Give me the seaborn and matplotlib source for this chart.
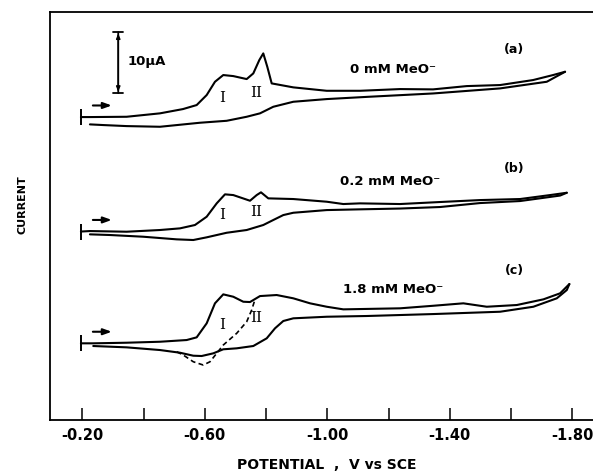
import numpy as np
import pandas as pd
import seaborn as sns
import matplotlib
matplotlib.use("Agg")
import matplotlib.pyplot as plt

sns.set_style("white")
plt.rcParams["font.family"] = ["DejaVu Sans"]
plt.rcParams["font.weight"] = "bold"
plt.rcParams["text.color"] = "black"
plt.rcParams["xtick.color"] = "black"
plt.rcParams["axes.labelcolor"] = "black"

# potentials (V vs SCE) and currents (uA, relative to the start of each scan)
a_fwd_v = [-0.195, -0.2245, -0.3444, -0.4533, -0.5284, -0.5732, -0.6059, -0.6330, -0.6601, -0.6928,
           -0.7366, -0.7582, -0.7778, -0.7908, -0.8039, -0.8183, -0.8889, -0.9980, -1.1069, -1.2376,
           -1.3454, -1.4556, -1.5644, -1.6722, -1.7376, -1.7768]
a_fwd_i = [0.0, 0.0, 0.05, 0.61, 1.31, 1.97, 3.61, 5.79, 6.89, 6.72,
           6.23, 7.16, 9.34, 10.44, 8.25, 5.52, 4.87, 4.31, 4.31, 4.59,
           4.54, 5.08, 5.25, 6.07, 6.89, 7.43]
a_rev_v = [-1.7768, -1.7170, -1.5644, -1.3454, -1.1288, -0.9980, -0.8889, -0.8235, -0.7801, -0.7366,
           -0.6712, -0.5840, -0.4533, -0.3444, -0.2680, -0.2245]
a_rev_i = [7.43, 5.79, 4.70, 3.87, 3.31, 2.95, 2.51, 1.69, 0.61, 0.05,
           -0.61, -0.93, -1.59, -1.48, -1.31, -1.20]

b_fwd_v = [-0.195, -0.2245, -0.3444, -0.4533, -0.5186, -0.5676, -0.6059, -0.6386, -0.6657, -0.6928,
           -0.7474, -0.7693, -0.7833, -0.8072, -0.8889, -0.9980, -1.0523, -1.1069, -1.2376, -1.3683,
           -1.4990, -1.6297, -1.7278, -1.7824]
b_fwd_i = [0.0, 0.08, -0.03, 0.25, 0.52, 1.07, 2.43, 4.62, 6.10, 5.98,
           5.05, 5.98, 6.43, 5.44, 5.33, 4.89, 4.51, 4.62, 4.51, 4.84,
           5.16, 5.33, 5.98, 6.36]
b_rev_v = [-1.7824, -1.7605, -1.6297, -1.4990, -1.3683, -1.2376, -1.1069, -0.9980, -0.8889, -0.8562,
           -0.8235, -0.7908, -0.7366, -0.6712, -0.6059, -0.5621, -0.5078, -0.3987, -0.2899, -0.2245]
b_rev_i = [6.36, 5.90, 5.00, 4.67, 4.02, 3.77, 3.64, 3.52, 3.08, 2.70,
           1.89, 1.07, 0.25, -0.20, -0.95, -1.39, -1.28, -0.85, -0.57, -0.46]

c_fwd_v = [-0.195, -0.2353, -0.3444, -0.4533, -0.5405, -0.5732, -0.6059, -0.6330, -0.6601, -0.6928,
           -0.7255, -0.7474, -0.7801, -0.8346, -0.8889, -0.9435, -0.9980, -1.0523, -1.2376, -1.3464,
           -1.4444, -1.5209, -1.6190, -1.7059, -1.7605, -1.7908]
c_fwd_i = [0.0, 0.0, 0.10, 0.26, 0.54, 0.98, 3.28, 6.56, 8.03, 7.64,
           6.82, 6.77, 7.75, 7.92, 7.38, 6.56, 6.00, 5.57, 5.74, 6.16,
           6.56, 6.00, 6.28, 7.21, 8.20, 9.72]
c_rev_v = [-1.7908, -1.7824, -1.7497, -1.6732, -1.5644, -1.3464, -1.1288, -0.9980, -0.8889, -0.8562,
           -0.8291, -0.8020, -0.7582, -0.7039, -0.6601, -0.6275, -0.5895, -0.5621, -0.5186, -0.4533,
           -0.3444, -0.2353]
c_rev_i = [9.72, 8.74, 7.38, 6.00, 5.18, 4.80, 4.48, 4.36, 4.10, 3.66,
           2.46, 0.82, -0.44, -0.82, -0.98, -1.64, -2.08, -2.03, -1.54, -1.10,
           -0.66, -0.44]
# dashed return trace for 1.8 mM
c_dash_v = [-0.7614, -0.7529, -0.7366, -0.7039, -0.6601, -0.6386, -0.6167, -0.5948, -0.5621, -0.5294, -0.5078]
c_dash_i = [6.82, 5.46, 3.54, 1.64, -0.28, -1.64, -3.02, -3.56, -3.02, -1.92, -1.38]

labels = ["0 mM MeO\u207b", "0.2 mM MeO\u207b", "1.8 mM MeO\u207b"]
panels = ["(a)", "(b)", "(c)"]
offsets = [49.67, 30.90, 12.57]

rows = []
traces = [(a_fwd_v, a_fwd_i, a_rev_v, a_rev_i),
          (b_fwd_v, b_fwd_i, b_rev_v, b_rev_i),
          (c_fwd_v, c_fwd_i, c_rev_v, c_rev_i)]
for k, (fv, fi, rv, ri) in enumerate(traces):
    for v, i in zip(fv, fi):
        rows.append((v, i + offsets[k], f"{k}f"))
    for v, i in zip(rv, ri):
        rows.append((v, i + offsets[k], f"{k}r"))
df = pd.DataFrame(rows, columns=["potential", "current", "segment"])
dash = pd.DataFrame({"potential": c_dash_v, "current": np.array(c_dash_i) + offsets[2]})

fig = plt.figure(figsize=(5.93, 4.72), dpi=100)
ax = fig.add_axes([0.0843, 0.1102, 0.9157, 0.8644])

sns.lineplot(data=df, x="potential", y="current", units="segment", estimator=None,
             sort=False, color="black", lw=1.5, ax=ax)
sns.lineplot(data=dash, x="potential", y="current", estimator=None, sort=False,
             color="black", lw=1.2, ls=(0, (3, 2)), ax=ax)

# start markers and scan direction arrows
for k in range(3):
    ax.plot([-0.195], [offsets[k]], ls="none", marker="|", ms=12, mew=1.4, color="black")
    ax.annotate("", xy=(-0.305, offsets[k] + 1.9), xytext=(-0.225, offsets[k] + 1.9),
                arrowprops=dict(arrowstyle="-|>,head_length=0.5,head_width=0.18", lw=1.5, color="black"))

# peak labels
peak_I = [3.05, 2.70, 3.0]
peak_II = [3.89, 3.25, 4.10]
for k in range(3):
    ax.text(-0.657, offsets[k] + peak_I[k], "I", family="DejaVu Serif", weight="normal",
            fontsize=11, ha="center", va="center")
    ax.text(-0.767, offsets[k] + peak_II[k], "II", family="DejaVu Serif", weight="normal",
            fontsize=11, ha="center", va="center")

label_x = [-1.074, -1.042, -1.051]
label_y = [7.87, 8.28, 8.87]
panel_y = [11.15, 10.41, 12.0]
for k in range(3):
    ax.text(label_x[k], offsets[k] + label_y[k], labels[k], fontsize=9.5, weight="bold",
            ha="left", va="center")
    ax.text(-1.61, offsets[k] + panel_y[k], panels[k], fontsize=9, weight="bold",
            ha="center", va="center")

# 10 uA scale bar
ax.annotate("", xy=(-0.317, 63.6), xytext=(-0.317, 53.6),
            arrowprops=dict(arrowstyle="|-|,widthA=0.35,widthB=0.35", lw=1.3, color="black",
                            shrinkA=0, shrinkB=0))
ax.annotate("", xy=(-0.317, 63.4), xytext=(-0.317, 53.8),
            arrowprops=dict(arrowstyle="<|-|>,head_length=0.3,head_width=0.12", lw=1.0, color="black",
                            shrinkA=0, shrinkB=0))
ax.text(-0.349, 58.7, "10\u00b5A", fontsize=9.5, weight="bold", ha="left", va="center")

ax.set_xlim(-0.094, -1.868)
ax.set_ylim(0, 66.9)
xticks = [-0.2, -0.4, -0.6, -0.8, -1.0, -1.2, -1.4, -1.6, -1.8]
xtick_labels = ["-0.20", "", "-0.60", "", "-1.00", "", "-1.40", "", "-1.80"]
ax.set_xticks(xticks)
ax.set_xticklabels(xtick_labels, fontsize=10.5, weight="bold")
ax.set_yticks([])
ax.tick_params(axis="x", direction="in", length=9, width=1.1, pad=6, bottom=True)
ax.set_xlabel("")
ax.set_ylabel("")
for s in ["left", "bottom", "top"]:
    ax.spines[s].set_linewidth(1.3)
    ax.spines[s].set_color("black")
ax.spines["right"].set_visible(False)

fig.text(327 / 593, 1 - 465 / 472, "POTENTIAL  ,  V vs SCE", fontsize=10, weight="bold",
         ha="center", va="center")
fig.text(23 / 593, 1 - 205 / 472, "CURRENT", fontsize=8, weight="bold", rotation=90,
         ha="center", va="center")

fig.savefig("out.png", dpi=100)
